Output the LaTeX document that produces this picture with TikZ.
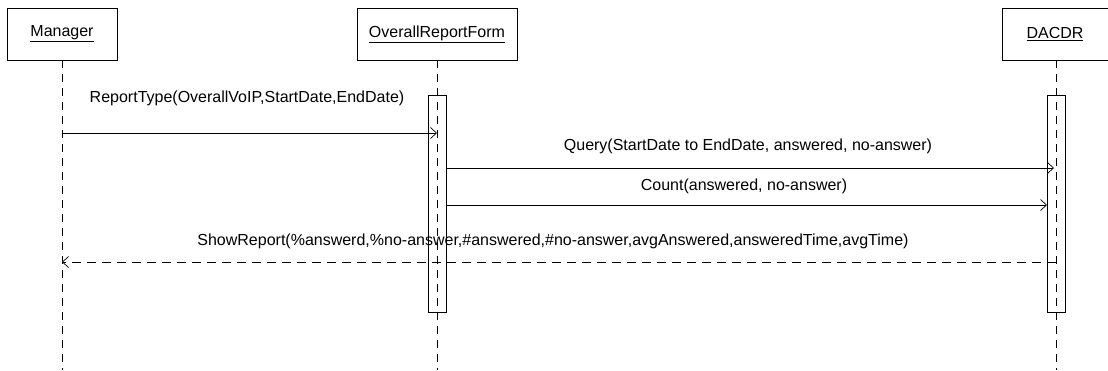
\documentclass[tikz,border=0pt]{standalone}
\usepackage{fontspec}
\setmainfont{Liberation Sans}
\usetikzlibrary{arrows.meta}
\begin{document}
\begin{tikzpicture}[x=1pt,y=-1pt,
  objbox/.style={draw, line width=0.8pt, minimum height=52pt, inner sep=0pt, font=\fontsize{16}{18}\selectfont},
  lifeline/.style={line width=0.8pt, dash pattern=on 8pt off 6pt},
  actbar/.style={draw, line width=0.8pt, minimum width=18pt, inner sep=0pt},
  msg/.style={line width=0.7pt, -{Straight Barb[length=6pt,width=11pt,line width=0.7pt]}},
  retmsg/.style={msg, dash pattern=on 9pt off 6pt},
  lbl/.style={inner sep=0pt, font=\fontsize{16}{18}\selectfont}
]
\useasboundingbox (0,0) rectangle (1108,370);

% participants
\node[objbox, minimum width=110pt] (mgr) at (62,34) {\underline{Manager}};
\node[objbox, minimum width=160pt] (orf) at (437,34) {\underline{OverallReportForm}};
\node[objbox, minimum width=106pt] (dac) at (1055,34) {\underline{DACDR}};

% lifeline ends
\coordinate (mgrEnd) at (62,370);
\coordinate (orfEnd) at (437,370);
\coordinate (dacEnd) at (1056,370);

% activation bars
\node[actbar, minimum height=217pt] (orfbar) at (437,203.5) {};
\node[actbar, minimum height=217pt] (dacbar) at (1056,203.5) {};

% lifelines
\draw[lifeline] (mgr.south) -- (mgrEnd);
\draw[lifeline] (orf.south) -- (orfEnd);
\draw[lifeline] (dac.south -| dacEnd) -- (dacEnd);

% message anchor points
\coordinate (m1s) at (62,133);
\coordinate (m1e) at (437,133);
\coordinate (m2s) at (446,168);
\coordinate (m2e) at (1054,168);
\coordinate (m3s) at (446,205);
\coordinate (m3e) at (1047,205);
\coordinate (m4s) at (1056,262);
\coordinate (m4e) at (62,262);

% messages
\draw[msg] (m1s) -- (m1e);
\node[lbl] (l1) at (247,98) {ReportType(OverallVoIP,StartDate,EndDate)};

\draw[msg] (m2s) -- (m2e);
\node[lbl] (l2) at (748,146) {Query(StartDate to EndDate, answered, no-answer)};

\draw[msg] (m3s) -- (m3e);
\node[lbl] (l3) at (744,186) {Count(answered, no-answer)};

\draw[retmsg] (m4s) -- (m4e);
\node[lbl] (l4) at (553,241) {ShowReport(\%answerd,\%no-answer,\#answered,\#no-answer,avgAnswered,answeredTime,avgTime)};
\end{tikzpicture}
\end{document}
